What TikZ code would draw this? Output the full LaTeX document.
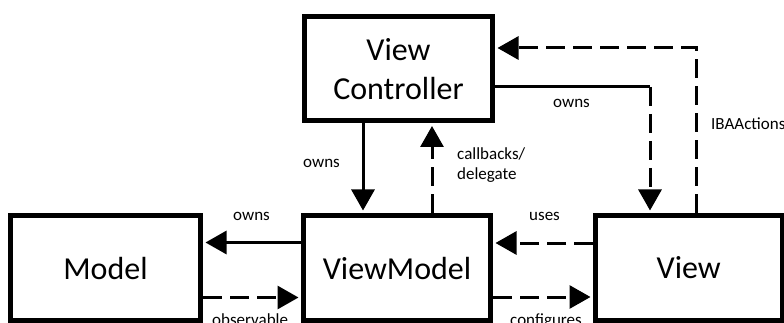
\documentclass[tikz,border=0pt]{standalone}
\usepackage{fontspec}
\setmainfont{Carlito}
\usetikzlibrary{arrows.meta,positioning,calc}
\definecolor{ink}{RGB}{0,0,0}
\tikzset{
  every picture/.style={color=ink},
  box/.style={draw=ink, line width=5pt, fill=white, inner sep=0pt, align=center,
    font=\fontsize{32}{39}\selectfont},
  unit/.style={box, minimum width=188pt, minimum height=105pt},
  wire/.style={line width=3pt},
  flow/.style={wire, -{Triangle[length=21pt,width=23pt]}, shorten >=2.5pt},
  loose/.style={flow, dash pattern=on 19pt off 8pt},
  lbl/.style={font=\fontsize{17}{20}\selectfont, inner sep=0pt, align=left},
}

\begin{document}
\begin{tikzpicture}[x=1pt, y=-1pt]
  \useasboundingbox (0,0) rectangle (784,323);
  \clip (0,0) rectangle (784,323);
  % the four parts of MVVM
  \node[unit, minimum height=104.5pt] (vc) at (398.5,68.75) {View\\Controller};
  \node[unit, minimum width=190pt] (model) at (105.5,268) {Model};
  \node[unit, minimum width=187pt] (vm) at (397,268) {ViewModel};
  \node[unit, minimum width=186.5pt] (view) at (688.75,268) {View};
  % controller <-> view model
  \draw[flow] ([xshift=-35.5]vc.south) -- ([xshift=-35.5]vc.south |- vm.north);
  \draw[loose] ([xshift=35]vm.north) -- ([xshift=35]vm.north |- vc.south);
  \node[lbl, anchor=base west] (ownsvm) at (303,168) {owns};
  \node[lbl, anchor=north west] (callback) at (457,147) {callbacks/\\delegate};
  % controller <-> view
  \coordinate (viewin) at ([xshift=-38.75]view.north);
  \draw[wire] ([yshift=-18.25]vc.east) -- ([yshift=-18.25]vc.east -| viewin) coordinate (bend);
  \draw[loose] (bend) -- (viewin);
  \draw[loose] ([xshift=8]view.north) |- ([yshift=20.75]vc.east);
  \node[lbl, anchor=base west] (ownsview) at (553,108) {owns};
  \node[lbl, anchor=base west] (actions) at (711,130) {IBAActions};
  % model <-> view model
  \draw[flow] ([yshift=25.5]vm.west) -- ([yshift=25.5]vm.west -| model.east);
  \draw[loose] ([yshift=-29.5]model.east) -- ([yshift=-29.5]model.east -| vm.west);
  \node[lbl, anchor=base west] (ownsmodel) at (233,221) {owns};
  \node[lbl, anchor=base west] (observe) at (212,325) {observable};
  % view <-> view model
  \draw[loose] ([yshift=25]view.west) -- ([yshift=25]view.west -| vm.east);
  \draw[loose] ([yshift=-29]vm.east) -- ([yshift=-29]vm.east -| view.west);
  \node[lbl, anchor=base west] (uses) at (529,221) {uses};
  \node[lbl, anchor=base west] (config) at (510,325) {configures};
\end{tikzpicture}
\end{document}
